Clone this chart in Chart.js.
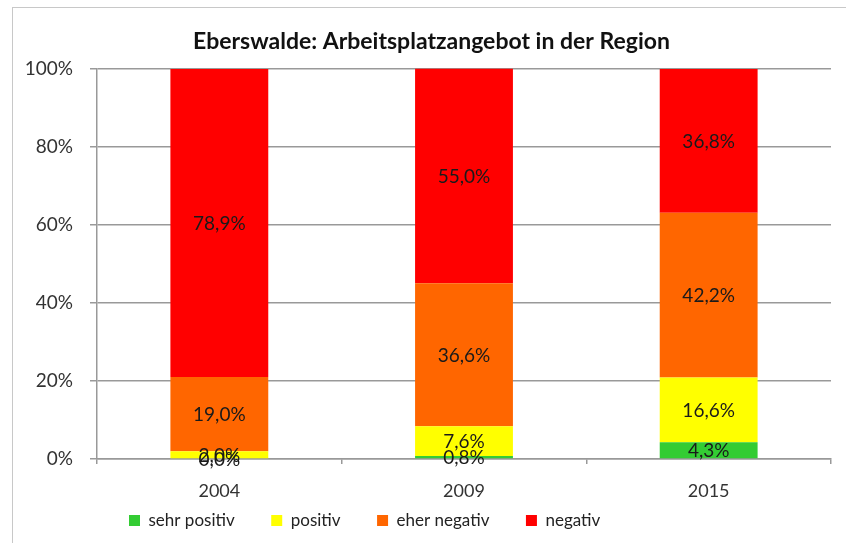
<!DOCTYPE html>
<html>
<head>
<meta charset="utf-8">
<script src="https://cdn.jsdelivr.net/npm/chart.js@4"></script>
<style>
  html, body { margin:0; padding:0; background:#fff; overflow:hidden; }
  #wrap { position:relative; width:846px; height:543px; }
  #frame { position:absolute; left:12px; top:7px; width:900px; height:600px;
           border-left:1px solid #c8c8c8; border-top:1px solid #c8c8c8; }
  #c { position:absolute; left:0; top:0; }
</style>
</head>
<body>
<div id="wrap">
  <div id="frame"></div>
  <canvas id="c" width="846" height="543"></canvas>
</div>
<script>
/* ── DATA ── */
const years       = ['2004', '2009', '2015'];
const sehrPositiv = [0.0, 0.8, 4.3];
const positiv     = [2.0, 7.6, 16.6];
const eherNegativ = [19.0, 36.6, 42.2];
const negativ     = [78.9, 55.0, 36.8];
const yTicks      = [0, 20, 40, 60, 80, 100];

const FONT = 'Lato, "Open Sans", sans-serif';
const fmtPct = v => v.toFixed(1).replace('.', ',') + '%';

// value labels centered in each stacked segment
const barLabels = {
  id: 'barLabels',
  afterDatasetsDraw(chart) {
    const ctx = chart.ctx;
    ctx.save();
    ctx.font = '19px ' + FONT;
    ctx.fillStyle = '#1a1a1a';
    ctx.textAlign = 'center';
    ctx.textBaseline = 'middle';
    chart.data.datasets.forEach((ds, i) => {
      chart.getDatasetMeta(i).data.forEach((bar, j) => {
        const p = bar.getProps(['x', 'y', 'base'], true);
        ctx.fillText(fmtPct(ds.data[j]), p.x, (p.y + p.base) / 2 + 1);
      });
    });
    ctx.restore();
  }
};

// legend sits left of centre in the original, title a bit right of it
const legendStart = 129;
const titleNudge = 10;
const boxShift = {
  id: 'boxShift',
  afterLayout(chart) {
    const l = chart.legend;
    const dx = legendStart - (l.left + l.options.labels.padding);
    l.left += dx; l.right += dx;
    const t = chart.titleBlock;
    if (t) { t.left += titleNudge; t.right += titleNudge; }
  }
};

const gap = '\u2003\u2003';
new Chart(document.getElementById('c'), {
  type: 'bar',
  data: {
    labels: years,
    datasets: [
      { label: 'sehr positiv', data: sehrPositiv, backgroundColor: '#33CC33' },
      { label: 'positiv',      data: positiv,     backgroundColor: '#FFFF00' },
      { label: 'eher negativ', data: eherNegativ, backgroundColor: '#FF6600' },
      { label: 'negativ',      data: negativ,     backgroundColor: '#FF0000' }
    ]
  },
  options: {
    responsive: false,
    animation: false,
    layout: { padding: { left: 12, right: 15, top: 0, bottom: 4 } },
    datasets: { bar: { barPercentage: 0.4, categoryPercentage: 1.0, borderWidth: 0 } },
    plugins: {
      tooltip: { enabled: false },
      title: {
        display: true,
        text: 'Eberswalde: Arbeitsplatzangebot in der Region',
        color: '#111',
        font: { family: FONT, size: 23, weight: 'bold' },
        padding: { top: 28, bottom: 13 }
      },
      legend: {
        position: 'bottom',
        align: 'start',
        labels: {
          color: '#222',
          font: { family: FONT, size: 17 },
          boxWidth: 11, boxHeight: 11,
          padding: 11,
          generateLabels(chart) {
            const items = Chart.defaults.plugins.legend.labels.generateLabels(chart);
            items.forEach((it, i) => { if (i < items.length - 1) it.text += gap; });
            return items;
          }
        }
      }
    },
    scales: {
      x: {
        stacked: true,
        grid: { display: true, drawOnChartArea: false, drawTicks: true, tickLength: 5, color: '#999', lineWidth: 1.5 },
        border: { color: '#999', width: 1.5 },
        ticks: { color: '#333', font: { family: FONT, size: 18 }, padding: 16 },
        afterFit(s) { s.height = 42; }
      },
      y: {
        stacked: true,
        min: 0, max: 100,
        afterBuildTicks(s) { s.ticks = yTicks.map(v => ({ value: v })); },
        grid: { color: '#999', lineWidth: 1.5, tickLength: 7 },
        border: { color: '#999', width: 1.5 },
        ticks: { color: '#333', font: { family: FONT, size: 19 }, padding: 17, callback: v => v + '%' },
        afterFit(s) { s.width = 85; }
      }
    }
  },
  plugins: [barLabels, boxShift]
});
</script>
</body>
</html>
